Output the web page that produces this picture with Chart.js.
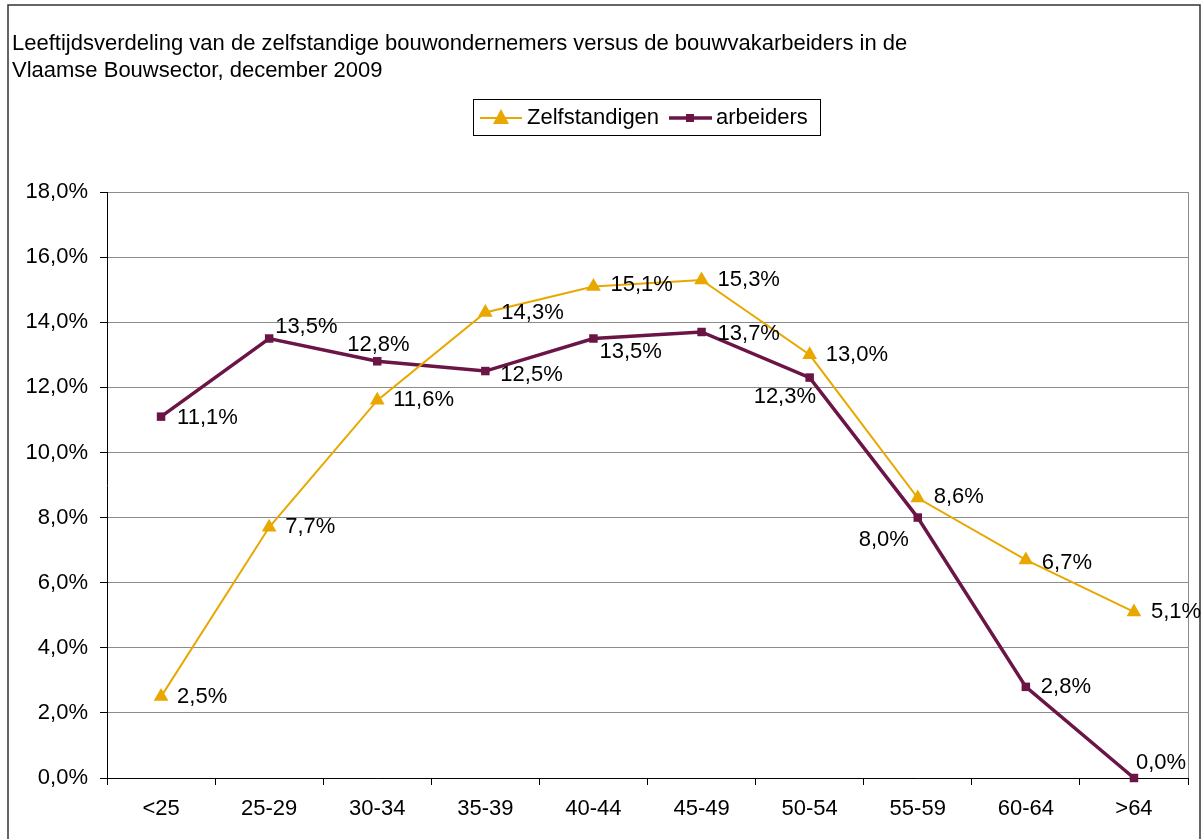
<!DOCTYPE html>
<html>
<head>
<meta charset="utf-8">
<script src="https://cdn.jsdelivr.net/npm/chart.js@4.4.0/dist/chart.umd.min.js"></script>
<style>
  html, body { margin: 0; padding: 0; background: #fff; }
  canvas { display: block; }
</style>
</head>
<body>
<canvas id="chart" width="1202" height="839"></canvas>
<script>
const categories = ['<25', '25-29', '30-34', '35-39', '40-44', '45-49', '50-54', '55-59', '60-64', '>64'];
const zelfstandigen = [2.5, 7.7, 11.6, 14.3, 15.1, 15.3, 13.0, 8.6, 6.7, 5.1];
const arbeiders = [11.1, 13.5, 12.8, 12.5, 13.5, 13.7, 12.3, 8.0, 2.8, 0.0];
const titleLines = [
  'Leeftijdsverdeling van de zelfstandige bouwondernemers versus de bouwvakarbeiders in de',
  'Vlaamse Bouwsector, december 2009'
];

// where each value label sits relative to its point (pixels)
const zelfLabelDx = [16, 16, 16, 16, 17, 16, 16, 16, 16, 17];
const zelfLabelDy = [0, 0, 0, 0, -1, 0, 0, -1, 3, 0];
const arbLabelDx = [16, 6, -30, 15, 6, 16, -56, -59, 15, 2];
const arbLabelDy = [1, -12, -16, 4, 13, 2, 19, 22, 0, -15];

const ORANGE = '#E8A800';
const PURPLE = '#6B1446';
const FONT = '"Liberation Sans", Arial, sans-serif';
const FS = 22;

function fmt(v) {
  return v.toFixed(1).replace('.', ',') + '%';
}

const decor = {
  id: 'decor',
  afterDraw(chart) {
    const ctx = chart.ctx;
    const area = chart.chartArea;
    ctx.save();

    // outer frame
    ctx.strokeStyle = '#333';
    ctx.lineWidth = 1.5;
    ctx.strokeRect(8, 5, 1192, 850);

    // plot area right edge
    ctx.strokeStyle = '#8c8c8c';
    ctx.lineWidth = 1;
    ctx.beginPath();
    ctx.moveTo(area.right + 0.5, area.top);
    ctx.lineTo(area.right + 0.5, area.bottom);
    ctx.stroke();

    // title
    ctx.fillStyle = '#000';
    ctx.font = FS + 'px ' + FONT;
    ctx.textAlign = 'left';
    ctx.textBaseline = 'middle';
    ctx.fillText(titleLines[0], 12, 44);
    ctx.fillText(titleLines[1], 12, 71);

    // legend
    ctx.strokeStyle = '#000';
    ctx.lineWidth = 1;
    ctx.strokeRect(473.5, 99.5, 347, 36);
    const ly = 118;
    ctx.strokeStyle = ORANGE;
    ctx.lineWidth = 2;
    ctx.beginPath();
    ctx.moveTo(480, ly);
    ctx.lineTo(522, ly);
    ctx.stroke();
    ctx.fillStyle = ORANGE;
    ctx.beginPath();
    ctx.moveTo(501, ly - 9);
    ctx.lineTo(509, ly + 6);
    ctx.lineTo(493, ly + 6);
    ctx.closePath();
    ctx.fill();
    ctx.fillStyle = '#000';
    ctx.fillText(chart.data.datasets[0].label, 527, ly);

    ctx.strokeStyle = PURPLE;
    ctx.lineWidth = 3.5;
    ctx.beginPath();
    ctx.moveTo(669, ly);
    ctx.lineTo(712, ly);
    ctx.stroke();
    ctx.fillStyle = PURPLE;
    ctx.fillRect(686, ly - 4, 8, 8);
    ctx.fillStyle = '#000';
    ctx.fillText(chart.data.datasets[1].label, 716, ly);

    // value labels
    const offsets = [[zelfLabelDx, zelfLabelDy], [arbLabelDx, arbLabelDy]];
    chart.data.datasets.forEach((ds, i) => {
      const meta = chart.getDatasetMeta(i);
      meta.data.forEach((pt, j) => {
        ctx.fillText(fmt(ds.data[j]), pt.x + offsets[i][0][j], pt.y + offsets[i][1][j]);
      });
    });
    ctx.restore();
  }
};

new Chart(document.getElementById('chart'), {
  type: 'line',
  data: {
    labels: categories,
    datasets: [
      {
        label: 'Zelfstandigen',
        data: zelfstandigen,
        borderColor: ORANGE,
        backgroundColor: ORANGE,
        borderWidth: 2,
        pointStyle: 'triangle',
        pointRadius: 8.5,
        pointBorderWidth: 0,
        tension: 0,
        clip: false
      },
      {
        label: 'arbeiders',
        data: arbeiders,
        borderColor: PURPLE,
        backgroundColor: PURPLE,
        borderWidth: 3.5,
        pointStyle: 'rect',
        pointRadius: 6,
        pointBorderWidth: 0,
        tension: 0,
        clip: false
      }
    ]
  },
  options: {
    responsive: false,
    animation: false,
    layout: { padding: { top: 192, right: 14, bottom: 0, left: 0 } },
    plugins: {
      legend: { display: false },
      title: { display: false },
      tooltip: { enabled: false }
    },
    scales: {
      x: {
        offset: true,
        afterFit: (scale) => { scale.height = 61; },
        grid: {
          offset: true,
          drawOnChartArea: false,
          tickLength: 7,
          tickColor: '#000'
        },
        border: { color: '#000', width: 1 },
        ticks: { color: '#000', font: { family: FONT, size: FS }, padding: 11, maxRotation: 0 }
      },
      y: {
        min: 0,
        max: 18,
        afterFit: (scale) => { scale.width = 107; },
        grid: {
          color: '#8c8c8c',
          tickLength: 7,
          tickColor: '#000'
        },
        border: { color: '#000', width: 1 },
        ticks: {
          stepSize: 2,
          color: '#000',
          padding: 12,
          font: { family: FONT, size: FS },
          callback: (v) => fmt(v)
        }
      }
    }
  },
  plugins: [decor]
});
</script>
</body>
</html>
